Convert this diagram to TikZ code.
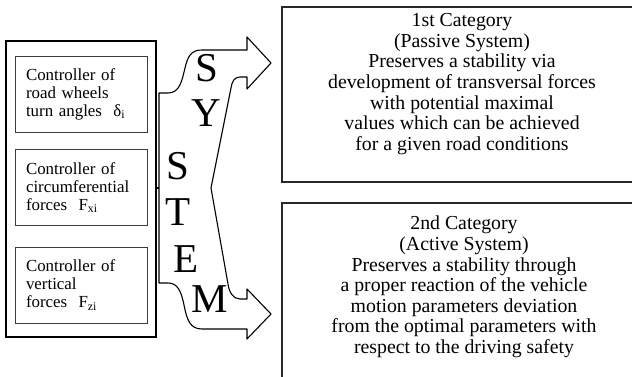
\documentclass[tikz,border=0pt]{standalone}
\usepackage{fontspec}
\setmainfont{Liberation Serif}
\usepackage{tikz}
\usepackage{xcolor}

\tikzset{
  ctrlbox/.style={draw={rgb, 255:red, 60; green, 60; blue, 60 }, line width=0.8, minimum width=132, minimum height=76,
    text width=110, inner xsep=11, align=left, font=\fontsize{16.9}{18}\selectfont},
  catbox/.style={align=center, inner sep=0, font=\fontsize{19.8}{20.6}\selectfont},
  bigletter/.style={inner sep=0, font=\fontsize{41}{41}\selectfont}
}

\begin{document}
\begin{tikzpicture}[x=1pt,y=1pt,yscale=-1,xscale=1]
\useasboundingbox (0,0) rectangle (632,377);

%Shape: Rectangle (outer frame of controllers)
\draw  [color={rgb, 255:red, 0; green, 0; blue, 0 }  ,draw opacity=1 ,line width=1.3] (6,41) rectangle (156,337) ;

%Controllers
\node [ctrlbox] (wheels) at (81,94) {Controller of\\road wheels\\turn angles~~δ\textsubscript{i}};
\node [ctrlbox] (circ) at (81,187.5) {Controller of\\circumferential\\forces~~F\textsubscript{xi}};
\node [ctrlbox] (vert) at (81,285) {Controller of\\vertical\\forces~~F\textsubscript{zi}};

%Shape: Double arrow
\draw  [line width=1.1, line join=round] (159,93) -- (168,93) .. controls (180,93) and (182,80) .. (185,68) .. controls (188,55) and (192,50) .. (202,50) -- (247,50) -- (247,37) -- (271,63) -- (247,89) -- (247,77) -- (240,77) .. controls (234,77) and (232,82) .. (231,88) -- (211,188) -- (228,284) .. controls (229,292) and (233,299) .. (240,299) -- (247,299) -- (247,289) -- (271,314) -- (247,339) -- (247,329) -- (202,329) .. controls (190,329) and (187,320) .. (184,305) .. controls (181,290) and (177,283) .. (168,283) -- (159,283) -- cycle ;
%Straight Lines
\coordinate (frame) at (156,188);
\coordinate (arrowfoot) at (159,188);
\draw [line width=1.1]  (frame) -- (arrowfoot) ;

%Letters
\node [bigletter] (s1) at (207,68) {S};
\node [bigletter] (y) at (206,113) {Y};
\node [bigletter] (s2) at (178,166) {S};
\node [bigletter] (t) at (178,212) {T};
\node [bigletter] (e) at (186,259) {E};
\node [bigletter] (m) at (210,299) {M};

%Shape: Rectangle (categories)
\draw  [color={rgb, 255:red, 40; green, 40; blue, 40 }  ,draw opacity=1 ,line width=1.2] (282,7) rectangle (660,182) ;
\draw  [color={rgb, 255:red, 40; green, 40; blue, 40 }  ,draw opacity=1 ,line width=1.2] (282,203) rectangle (660,400) ;

\node [catbox] (passive) at (462,84) {1st Category\\(Passive System)\\Preserves a stability via\\development of transversal forces\\with potential maximal\\values which can be achieved\\for a given road conditions};
\node [catbox] (active) at (464,287) {2nd Category\\(Active System)\\Preserves a stability through\\a proper reaction of the vehicle\\motion parameters deviation\\from the optimal parameters with\\respect to the driving safety};

\end{tikzpicture}
\end{document}
